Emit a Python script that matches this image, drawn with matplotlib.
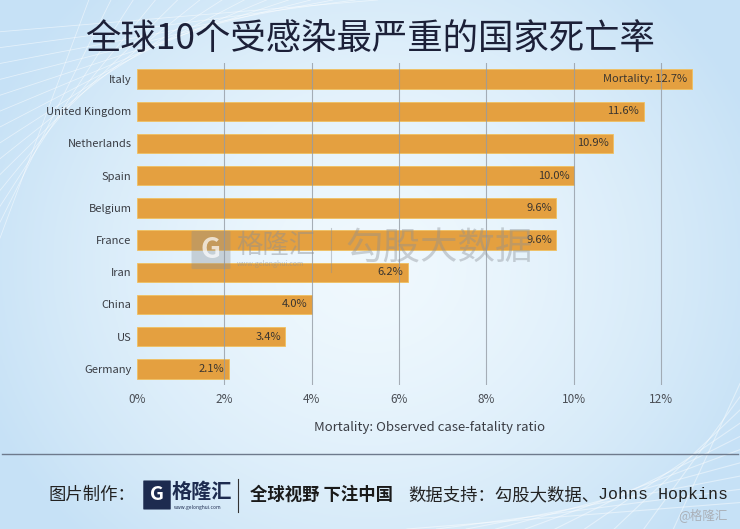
import numpy as np
import matplotlib
matplotlib.use("Agg")
import matplotlib.pyplot as plt
from matplotlib.patches import FancyBboxPatch

plt.rcParams['font.family'] = ['Noto Sans CJK SC', 'DejaVu Sans']

countries = ["Italy", "United Kingdom", "Netherlands", "Spain", "Belgium",
             "France", "Iran", "China", "US", "Germany"]
mortality = [12.7, 11.6, 10.9, 10.0, 9.6, 9.6, 6.2, 4.0, 3.4, 2.1]
xticks = [0, 2, 4, 6, 8, 10, 12]
xtick_labels = ["0%", "2%", "4%", "6%", "8%", "10%", "12%"]

title = "全球10个受感染最严重的国家死亡率"
xlabel = "Mortality: Observed case-fatality ratio"

W, H = 740, 529
fig = plt.figure(figsize=(W / 100, H / 100), dpi=100)

# background gradient
bg = fig.add_axes([0, 0, 1, 1], zorder=-10)
xx = np.linspace(-1, 1, 300)
yy = np.linspace(-1, 1, 220)
X, Y = np.meshgrid(xx, yy)
r = np.clip(np.sqrt((X * 0.9) ** 2 + (Y * 0.7) ** 2), 0, 1)
c_center = np.array([0.94, 0.975, 0.995])
c_edge = np.array([0.78, 0.885, 0.965])
img = c_center[None, None, :] * (1 - r[..., None] ** 1.5) + c_edge[None, None, :] * (r[..., None] ** 1.5)
bg.imshow(img, extent=[0, 1, 0, 1], aspect='auto', origin='lower')
# faint diagonal lines
for k in range(14):
    bg.plot([0.0, 0.12 + 0.03 * k], [0.55 + 0.03 * k, 1.0], color='white', lw=0.6, alpha=0.5)
for k in range(10):
    bg.plot([0.55 + 0.04 * k, 1.0], [0.0, 0.05 + 0.025 * k], color='white', lw=0.8, alpha=0.45)
bg.set_xlim(0, 1)
bg.set_ylim(0, 1)
bg.axis('off')

# main axes
left = 137 / W
right = 726 / W
top = 1 - 63 / H
bottom = 1 - 385 / H
ax = fig.add_axes([left, bottom, right - left, top - bottom])
ax.set_facecolor('none')
ypos = np.arange(len(countries))
ax.barh(ypos, mortality, height=0.6, color='#E4A040', edgecolor='#F0C060',
        linewidth=0.6, zorder=2)
ax.set_xlim(0, (726 - 137) / 43.67)
ax.set_ylim(len(countries) - 0.5, -0.5)
for xv in xticks[1:]:
    ax.axvline(xv, color='#959ca5', lw=0.8, zorder=3, alpha=0.8)
ax.set_yticks(ypos)
ax.set_yticklabels(countries, fontsize=8, color='#3a3d44')
ax.set_xticks(xticks)
ax.set_xticklabels(xtick_labels, fontsize=8.5, color='#4a4e55')
ax.tick_params(axis='both', length=0)
ax.tick_params(axis='x', pad=6)
ax.tick_params(axis='y', pad=4)
for s in ax.spines.values():
    s.set_visible(False)

for i, v in enumerate(mortality):
    lab = f"{v:.1f}%"
    if i == 0:
        lab = "Mortality: " + lab
    ax.text(v - 0.1, i, lab, ha='right', va='center', fontsize=8,
            color='#3a3530', zorder=4)

fig.text(429 / W, 1 - 428 / H, xlabel, ha='center', va='center',
         fontsize=9.5, color='#3a3d44')

# watermark
wm = '#8a8f96'
fig.patches.append(FancyBboxPatch((193 / W, 1 - 268 / H), 36 / W, 36 / H,
                                  boxstyle='round,pad=0.002', transform=fig.transFigure,
                                  facecolor=wm, edgecolor='none', alpha=0.35, zorder=5))
fig.text(211 / W, 1 - 250 / H, "G", ha='center', va='center', fontsize=20,
         color='white', fontweight='bold', alpha=0.7, zorder=6)
fig.text(236 / W, 1 - 245 / H, "格隆汇", ha='left', va='center', fontsize=19,
         color=wm, alpha=0.45, zorder=6)
fig.text(237 / W, 1 - 264 / H, "www.gelonghui.com", ha='left', va='center', fontsize=5,
         color=wm, alpha=0.5, zorder=6)
fig.lines.append(plt.Line2D([331 / W, 331 / W], [1 - 228 / H, 1 - 272 / H],
                            transform=fig.transFigure, color=wm, lw=0.8, alpha=0.45))
fig.text(345 / W, 1 - 249 / H, "勾股大数据", ha='left', va='center', fontsize=27,
         color=wm, alpha=0.4, zorder=6)

# title
fig.text(370 / W, 1 - 40 / H, title, ha='center', va='center', fontsize=25.5,
         color='#1c2038')

# separator line
fig.lines.append(plt.Line2D([2 / W, 738 / W], [1 - 454 / H, 1 - 454 / H],
                            transform=fig.transFigure, color='#6e7a8c', lw=1.0))

# footer
fy = 1 - 495 / H
navy = '#1d2b4f'
fig.text(48 / W, fy, "图片制作：", ha='left', va='center', fontsize=12.5, color='#222')
fig.patches.append(FancyBboxPatch((144 / W, 1 - 509 / H), 26 / W, 28 / H,
                                  boxstyle='round,pad=0.001', transform=fig.transFigure,
                                  facecolor=navy, edgecolor='none', zorder=5))
fig.text(157 / W, 1 - 495 / H, "G", ha='center', va='center', fontsize=14,
         color='white', fontweight='bold', zorder=6)
fig.text(172 / W, 1 - 491 / H, "格隆汇", ha='left', va='center', fontsize=14.5,
         color=navy, fontweight='bold')
fig.text(174 / W, 1 - 508 / H, "www.gelonghui.com", ha='left', va='center', fontsize=3.5,
         color=navy)
fig.lines.append(plt.Line2D([238 / W, 238 / W], [1 - 479 / H, 1 - 512 / H],
                            transform=fig.transFigure, color='#333', lw=0.8))
fig.text(250 / W, fy, "全球视野 下注中国", ha='left', va='center', fontsize=12.5,
         color='#1a1a1a', fontweight='bold')
fig.text(408 / W, fy, "数据支持：勾股大数据、", ha='left', va='center', fontsize=12.5,
         color='#222')
fig.text(728 / W, fy, "Johns Hopkins", ha='right', va='center', fontsize=12,
         color='#222', family=['Liberation Mono', 'DejaVu Sans'])
fig.text(728 / W, 1 - 515 / H, "@格隆汇", ha='right', va='center', fontsize=9,
         color='#aab0b8')

fig.savefig("out.png", dpi=100)
